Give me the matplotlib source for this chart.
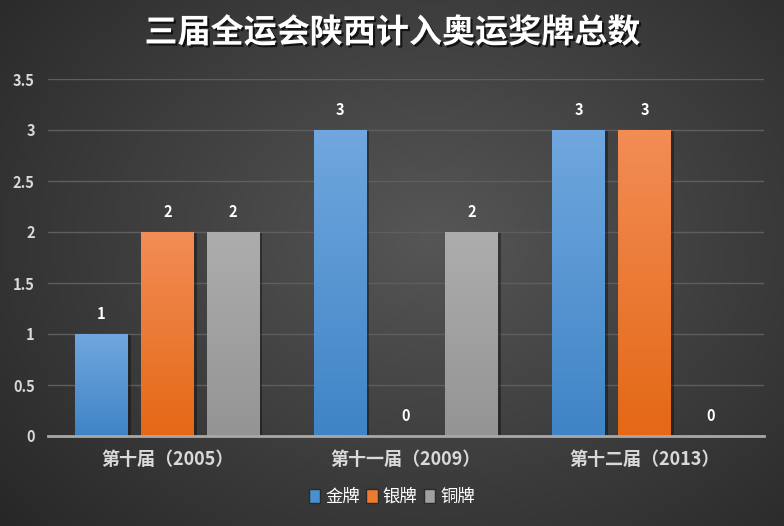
import numpy as np
import matplotlib
matplotlib.use("Agg")
import matplotlib.pyplot as plt
import matplotlib.patheffects as pe
from matplotlib.patches import Patch

plt.rcParams['font.family'] = ['Noto Sans CJK SC', 'DejaVu Sans']

title = "三届全运会陕西计入奥运奖牌总数"
categories = ["第十届（2005）", "第十一届（2009）", "第十二届（2013）"]
series_names = ["金牌", "银牌", "铜牌"]
gold = [1, 3, 3]
silver = [2, 0, 3]
bronze = [2, 2, 0]
yticks = [0, 0.5, 1, 1.5, 2, 2.5, 3, 3.5]
ytick_labels = ["0", "0.5", "1", "1.5", "2", "2.5", "3", "3.5"]

colors_top = ["#70a7de", "#f28d56", "#adadad"]
colors_bot = ["#3f84c6", "#e46815", "#949494"]
legend_colors = ["#4a8fd0", "#ee7a30", "#a0a0a0"]

W, H = 784, 526
fig = plt.figure(figsize=(W / 100, H / 100), dpi=100)

# background radial gradient
bg = fig.add_axes([0, 0, 1, 1])
yy, xx = np.mgrid[0:H, 0:W]
cx, cy = W * 0.55, H * 0.45
r = np.sqrt(((xx - cx) / (W * 0.75)) ** 2 + ((yy - cy) / (H * 0.85)) ** 2)
r = np.clip(r, 0, 1)
c0 = np.array([0x56, 0x56, 0x56]) / 255
c1 = np.array([0x26, 0x26, 0x26]) / 255
img = c0[None, None, :] * (1 - r[..., None]) + c1[None, None, :] * r[..., None]
bg.imshow(img, aspect='auto', extent=[0, 1, 0, 1], origin='upper')
bg.axis('off')

ax = fig.add_axes([48 / W, (H - 436) / H, 716 / W, (436 - 79) / H])
ax.patch.set_alpha(0)

x = np.arange(len(categories))
width = 0.222
step = 0.276
data = [gold, silver, bronze]
grad = np.linspace(0, 1, 256)[:, None]
for i, vals in enumerate(data):
    bars = ax.bar(x + (i - 1) * step, vals, width, color=legend_colors[i], zorder=3,
                  path_effects=[pe.SimplePatchShadow(offset=(2, -1), shadow_rgbFace='black', alpha=0.35), pe.Normal()])
    ct = np.array(matplotlib.colors.to_rgb(colors_top[i]))
    cb = np.array(matplotlib.colors.to_rgb(colors_bot[i]))
    gimg = ct[None, None, :] * (1 - grad[..., None]) + cb[None, None, :] * grad[..., None]
    for b, v in zip(bars, vals):
        if v > 0:
            ax.imshow(gimg, aspect='auto', zorder=4,
                      extent=[b.get_x(), b.get_x() + b.get_width(), 0, b.get_height()],
                      origin='upper')
        ax.text(b.get_x() + b.get_width() / 2, v + 0.12, str(v), ha='center', va='bottom',
                color='white', fontsize=10.5, fontweight='bold', zorder=5)
ax.set_xlim(-0.5, 2.5)
ax.set_ylim(0, 3.5)

ax.set_yticks(yticks)
ax.set_yticklabels(ytick_labels)
ax.set_xticks(x)
ax.set_xticklabels(categories)
ax.grid(axis='y', color='#5e5e5e', linewidth=1, zorder=0)
ax.set_axisbelow(True)
for s in ['top', 'right', 'left']:
    ax.spines[s].set_visible(False)
ax.spines['bottom'].set_color('#a8a8a8')
ax.spines['bottom'].set_linewidth(2)
ax.spines['bottom'].set_zorder(6)
ax.tick_params(axis='both', length=0, colors='#d9d9d9')
ax.tick_params(axis='y', pad=9.5)
ax.tick_params(axis='x', pad=10)
for lab in ax.get_yticklabels():
    lab.set_fontsize(10.5)
    lab.set_fontweight('bold')
for lab in ax.get_xticklabels():
    lab.set_fontsize(13)
    lab.set_fontweight('bold')

fig.text(0.5, 1 - 33 / H, title, ha='center', va='center', color='white',
         fontsize=23.8, fontweight='bold',
         path_effects=[pe.withSimplePatchShadow(offset=(1.5, -1.5), shadow_rgbFace='black', alpha=0.7)])

handles = [Patch(facecolor=legend_colors[i], edgecolor='#2a2a2a', label=series_names[i]) for i in range(3)]
leg = fig.legend(handles=handles, loc='center', bbox_to_anchor=(0.5, 1 - 497 / H), ncol=3,
                 frameon=False, handlelength=0.65, handleheight=0.85, handletextpad=0.3,
                 columnspacing=0.35, prop={'size': 12.5})
for t in leg.get_texts():
    t.set_color('white')

fig.savefig("out.png", dpi=100)
